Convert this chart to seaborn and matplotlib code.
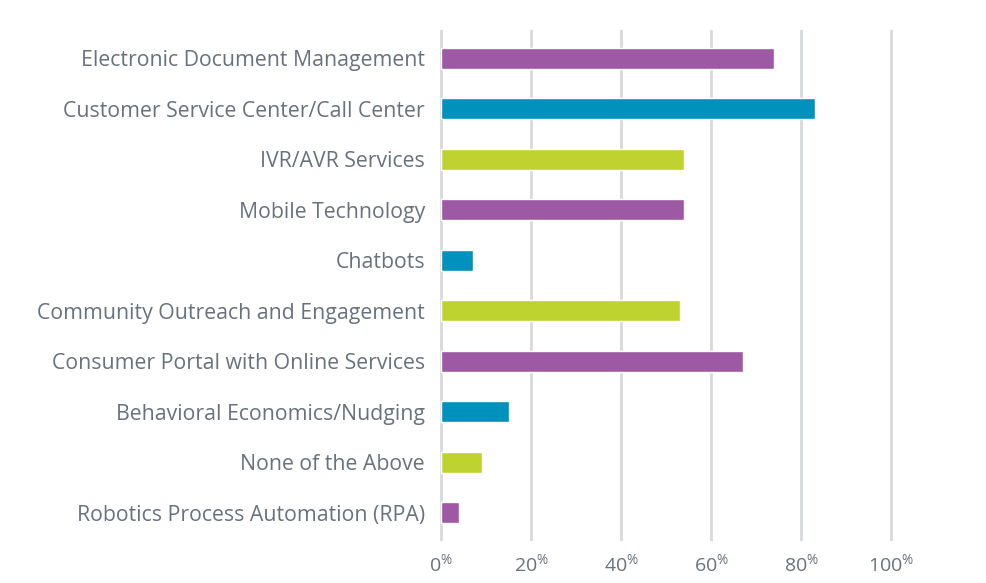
import matplotlib
matplotlib.use("Agg")
import matplotlib.pyplot as plt
import seaborn as sns
import pandas as pd

categories = [
    "Electronic Document Management",
    "Customer Service Center/Call Center",
    "IVR/AVR Services",
    "Mobile Technology",
    "Chatbots",
    "Community Outreach and Engagement",
    "Consumer Portal with Online Services",
    "Behavioral Economics/Nudging",
    "None of the Above",
    "Robotics Process Automation (RPA)",
]
values = [74, 83, 54, 54, 7, 53, 67, 15, 9, 4]
xticks = [0, 20, 40, 60, 80, 100]

purple = "#9d59a3"
blue = "#0092bc"
green = "#bfd330"
colors = [purple, blue, green, purple, blue, green, purple, blue, green, purple]

sns.set_theme(style="white")
FONT = "Open Sans"
plt.rcParams["font.family"] = [FONT, "DejaVu Sans"]
plt.rcParams["mathtext.fontset"] = "custom"
plt.rcParams["mathtext.rm"] = FONT
plt.rcParams["mathtext.it"] = FONT

text_color = "#68717d"
grid_color = "#d7dadd"

df = pd.DataFrame({"category": categories, "value": values})

fig = plt.figure(figsize=(9.86, 5.83), dpi=100)
ax = fig.add_axes([436 / 986, (583 - 541) / 583, 464 / 986, 511 / 583])

sns.barplot(data=df, y="category", x="value", hue="category",
            palette=dict(zip(categories, colors)), orient="h",
            width=0.42, legend=False, ax=ax, saturation=1)

ax.set_xlim(-5 / 4.5, 102)
ax.set_ylim(9.56, -0.56)
ax.set_xticks(xticks)
ax.set_xticklabels([rf"{t}$^{{\%}}$" for t in xticks])
ax.grid(axis="x", color=grid_color, linewidth=2.0, zorder=0)
ax.set_axisbelow(True)
for s in ax.spines.values():
    s.set_visible(False)
ax.set_xlabel("")
ax.set_ylabel("")
ax.tick_params(axis="x", length=0, pad=8.5, labelsize=14, labelcolor=text_color)
ax.tick_params(axis="y", length=0, pad=8, labelsize=15.3, labelcolor=text_color)

fig.savefig("out.png", dpi=100, facecolor="white")
